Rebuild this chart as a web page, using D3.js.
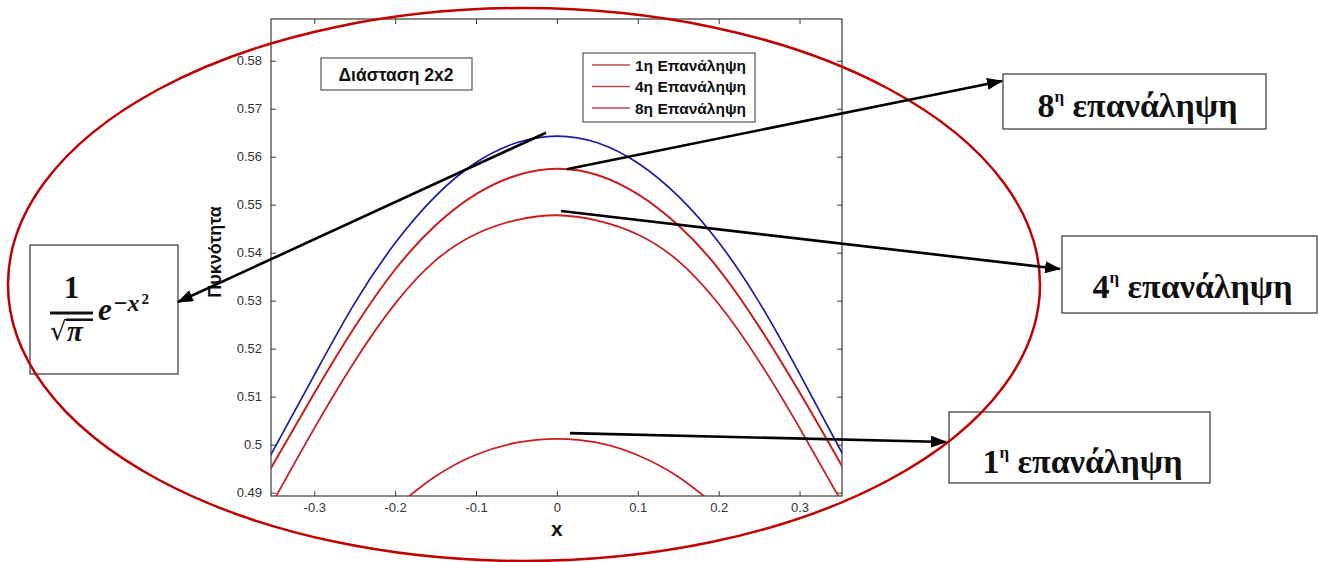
<!DOCTYPE html>
<html>
<head>
<meta charset="utf-8">
<script src="https://cdn.jsdelivr.net/npm/d3@7"></script>
<style>
  html, body { margin: 0; padding: 0; background: #fff; }
  svg { display: block; }
</style>
</head>
<body>
<svg id="chart" width="1318" height="562"></svg>
<script>
// ---- data -------------------------------------------------------------
const xTicks = [-0.3, -0.2, -0.1, 0, 0.1, 0.2, 0.3];
const yTicks = [0.49, 0.50, 0.51, 0.52, 0.53, 0.54, 0.55, 0.56, 0.57, 0.58];

// sample positions for the wide curves
const xWide = [-0.355, -0.3, -0.25, -0.2, -0.15, -0.1, -0.05, 0, 0.05, 0.1, 0.15, 0.2, 0.25, 0.3, 0.355];
// exact density 1/sqrt(pi) e^{-x^2}
const exactDensity = [0.4975, 0.5145, 0.5295, 0.5420, 0.5518, 0.5588, 0.5629, 0.5643, 0.5629, 0.5587, 0.5518, 0.5422, 0.5297, 0.5148, 0.4975];
// 8th iteration
const iter8 = [0.4947, 0.5107, 0.5245, 0.5365, 0.5457, 0.5522, 0.5561, 0.5575, 0.5562, 0.5522, 0.5457, 0.5366, 0.5246, 0.5109, 0.4948];
// 4th iteration
const iter4 = [0.4869, 0.5034, 0.5174, 0.5294, 0.5384, 0.5439, 0.5468, 0.5478, 0.5467, 0.5438, 0.5383, 0.5293, 0.5174, 0.5035, 0.4872];
// 1st iteration (only its top part lies inside the axes)
const xIter1 = [-0.2, -0.15, -0.1, -0.05, 0, 0.05, 0.1, 0.15, 0.2];
const iter1 = [0.4869, 0.4934, 0.4979, 0.5004, 0.5012, 0.5004, 0.4978, 0.4933, 0.4868];

const legendLabels = ["1η Επανάληψη", "4η Επανάληψη", "8η Επανάληψη"];
const plotTitle = "Διάσταση 2x2";
const yTitle = "Πυκνότητα";
const xTitle = "x";
const iterNumbers = ["8", "4", "1"];
const iterWord = "επανάληψη";

// ---- layout -----------------------------------------------------------
const svg = d3.select("#chart");
const box = { left: 271, right: 842, top: 19, bottom: 496 };

const x = d3.scaleLinear().domain([-0.3535, 0.3525]).range([box.left, box.right]);
const y = d3.scaleLinear().domain([0.4893, 0.5887]).range([box.bottom, box.top]);

const defs = svg.append("defs");
defs.append("clipPath").attr("id", "plotClip")
  .append("rect")
  .attr("x", box.left).attr("y", box.top)
  .attr("width", box.right - box.left).attr("height", box.bottom - box.top);

defs.append("marker")
  .attr("id", "head")
  .attr("markerUnits", "userSpaceOnUse")
  .attr("viewBox", "0 -6 16 12")
  .attr("markerWidth", 16).attr("markerHeight", 12)
  .attr("refX", 15).attr("refY", 0)
  .attr("orient", "auto")
  .append("path").attr("d", "M0,-6 L16,0 L0,6 Z").attr("fill", "#000");

// ---- axes (MATLAB style box, ticks pointing inward on all four sides) ---
const axisColor = "#3a3a3a";
const tickFont = "'Liberation Sans', Arial, sans-serif";

const gBottom = svg.append("g").attr("transform", `translate(0,${box.bottom})`)
  .call(d3.axisBottom(x).tickValues(xTicks).tickSizeInner(-5).tickSizeOuter(0).tickPadding(7)
    .tickFormat(d => d3.format("")(d).replace("−", "-")));
const gTop = svg.append("g").attr("transform", `translate(0,${box.top})`)
  .call(d3.axisTop(x).tickValues(xTicks).tickSizeInner(-5).tickSizeOuter(0).tickFormat(""));
const gLeft = svg.append("g").attr("transform", `translate(${box.left},0)`)
  .call(d3.axisLeft(y).tickValues(yTicks).tickSizeInner(-5).tickSizeOuter(0).tickPadding(9)
    .tickFormat(d => d3.format("")(+d.toFixed(2))));
const gRight = svg.append("g").attr("transform", `translate(${box.right},0)`)
  .call(d3.axisRight(y).tickValues(yTicks).tickSizeInner(-5).tickSizeOuter(0).tickFormat(""));

[gBottom, gTop, gLeft, gRight].forEach(g => {
  g.select(".domain").remove();
  g.selectAll(".tick line").attr("stroke", axisColor);
  g.selectAll("text").attr("fill", "#333").style("font-family", tickFont).style("font-size", "13px");
});

svg.append("rect")
  .attr("x", box.left).attr("y", box.top)
  .attr("width", box.right - box.left).attr("height", box.bottom - box.top)
  .attr("fill", "none").attr("stroke", axisColor).attr("stroke-width", 1.2);

// ---- curves -----------------------------------------------------------
const line = d3.line().x(d => x(d[0])).y(d => y(d[1])).curve(d3.curveNatural);
const curves = svg.append("g").attr("clip-path", "url(#plotClip)");

const series = [
  { xs: xWide, ys: exactDensity, color: "#1c1ca8", width: 1.7 },
  { xs: xWide, ys: iter8, color: "#c81e1e", width: 2 },
  { xs: xWide, ys: iter4, color: "#c81e1e", width: 1.8 },
  { xs: xIter1, ys: iter1, color: "#c81e1e", width: 1.8 }
];
series.forEach(s => {
  curves.append("path")
    .datum(d3.zip(s.xs, s.ys))
    .attr("d", line)
    .attr("fill", "none")
    .attr("stroke", s.color)
    .attr("stroke-width", s.width);
});

// ---- axis titles ------------------------------------------------------
svg.append("text")
  .attr("x", x(0)).attr("y", 536)
  .attr("text-anchor", "middle")
  .style("font-family", tickFont).style("font-weight", "bold").style("font-size", "21px")
  .attr("fill", "#111")
  .text(xTitle);

svg.append("text")
  .attr("transform", "translate(221,252) rotate(-90)")
  .attr("text-anchor", "middle")
  .style("font-family", tickFont).style("font-weight", "bold").style("font-size", "18px")
  .attr("fill", "#111")
  .text(yTitle);

// ---- in-plot title box -------------------------------------------------
svg.append("rect").attr("x", 321).attr("y", 58).attr("width", 151).attr("height", 32)
  .attr("fill", "#fff").attr("stroke", "#333").attr("stroke-width", 1);
svg.append("text").attr("x", 396).attr("y", 80.5).attr("text-anchor", "middle")
  .style("font-family", tickFont).style("font-weight", "bold").style("font-size", "17.5px")
  .attr("fill", "#111").text(plotTitle);

// ---- legend -----------------------------------------------------------
const legend = svg.append("g");
legend.append("rect").attr("x", 583).attr("y", 53).attr("width", 172).attr("height", 69)
  .attr("fill", "#fff").attr("stroke", "#333").attr("stroke-width", 1);
legendLabels.forEach((lab, i) => {
  const ly = 65 + i * 21.5;
  legend.append("line").attr("x1", 592).attr("x2", 630).attr("y1", ly).attr("y2", ly)
    .attr("stroke", "#b84a5a").attr("stroke-width", 1.4);
  legend.append("text").attr("x", 635).attr("y", ly + 5.5)
    .style("font-family", tickFont).style("font-weight", "bold").style("font-size", "15.5px")
    .attr("fill", "#111").text(lab);
});

// ---- annotation boxes -------------------------------------------------
const serif = "'Liberation Serif', 'Times New Roman', serif";
const labelBoxes = [
  { n: iterNumbers[0], x0: 1003, y0: 74, x1: 1266, y1: 129, base: 117 },
  { n: iterNumbers[1], x0: 1062, y0: 236, x1: 1317, y1: 313, base: 298 },
  { n: iterNumbers[2], x0: 949, y0: 412, x1: 1210, y1: 483, base: 473 }
];
const ann = svg.append("g");
labelBoxes.forEach(b => {
  ann.append("rect").attr("x", b.x0).attr("y", b.y0)
    .attr("width", b.x1 - b.x0).attr("height", b.y1 - b.y0)
    .attr("fill", "#fff").attr("stroke", "#333").attr("stroke-width", 1.2);
  const t = ann.append("text").attr("x", (b.x0 + b.x1) / 2 + 3).attr("y", b.base)
    .attr("text-anchor", "middle")
    .style("font-family", serif).style("font-weight", "bold").style("font-size", "34px")
    .attr("fill", "#111");
  t.append("tspan").text(b.n);
  t.append("tspan").attr("dy", -15).style("font-size", "17px").text("η");
  t.append("tspan").attr("dy", 15).text("\u00a0" + iterWord);
});

// formula box: 1/sqrt(pi) e^{-x^2}
ann.append("rect").attr("x", 30).attr("y", 245).attr("width", 148).attr("height", 129)
  .attr("fill", "#fff").attr("stroke", "#333").attr("stroke-width", 1.2);
const fm = ann.append("g").attr("fill", "#111")
  .style("font-family", serif).style("font-weight", "bold");
fm.append("text").attr("x", 71.5).attr("y", 298).attr("text-anchor", "middle")
  .style("font-size", "31px").text("1");
fm.append("rect").attr("x", 50).attr("y", 311.5).attr("width", 43).attr("height", 3);
fm.append("text").attr("x", 50).attr("y", 340).style("font-size", "26px")
  .style("font-family", "'DejaVu Serif', serif").style("font-weight", "normal").text("√");
fm.append("rect").attr("x", 66).attr("y", 318.5).attr("width", 27).attr("height", 2.5);
fm.append("text").attr("x", 67).attr("y", 341).style("font-size", "29px")
  .style("font-style", "italic").text("π");
fm.append("text").attr("x", 98).attr("y", 320).style("font-size", "31px")
  .style("font-style", "italic").text("e");
const sup = fm.append("text").attr("x", 113).attr("y", 311).style("font-size", "24px")
  .style("font-style", "italic");
sup.append("tspan").text("−x");
sup.append("tspan").attr("dx", 2).attr("dy", -7).style("font-size", "15px").style("font-style", "normal").text("2");

// ---- enclosing ellipse ------------------------------------------------
svg.append("ellipse")
  .attr("cx", 524).attr("cy", 284.5).attr("rx", 516).attr("ry", 276.5)
  .attr("fill", "none").attr("stroke", "#c00000").attr("stroke-width", 2.5);

// ---- arrows from curves to labels --------------------------------------
const arrows = [
  { from: [-0.0135, 0.5650], to: [178, 302] },   // exact density -> formula
  { from: [0.012, 0.5574], to: [1002, 81] },     // 8th
  { from: [0.005, 0.5487], to: [1060, 269] },    // 4th
  { from: [0.016, 0.5024], to: [946, 442] }      // 1st
];
arrows.forEach(a => {
  svg.append("line")
    .attr("x1", x(a.from[0])).attr("y1", y(a.from[1]))
    .attr("x2", a.to[0]).attr("y2", a.to[1])
    .attr("stroke", "#000").attr("stroke-width", 2.6)
    .attr("marker-end", "url(#head)");
});
</script>
</body>
</html>
